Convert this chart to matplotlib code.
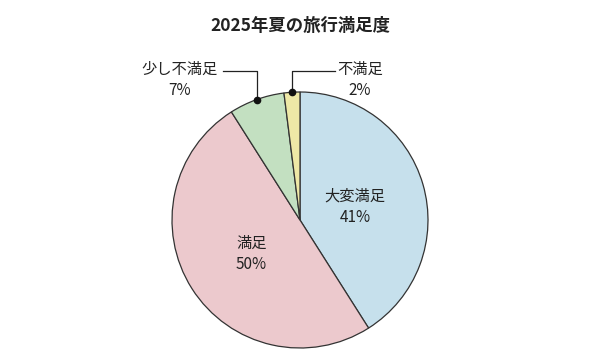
import numpy as np
import matplotlib
matplotlib.use("Agg")
import matplotlib.pyplot as plt

plt.rcParams['font.family'] = ['Noto Sans CJK JP', 'DejaVu Sans']

labels = ["大変満足", "満足", "少し不満足", "不満足"]
values = [41, 50, 7, 2]
colors = ["#c6e0ec", "#ecc9cd", "#c3e0c1", "#eee8a6"]
title = "2025年夏の旅行満足度"

W, H = 600, 359
fig = plt.figure(figsize=(W / 100, H / 100), dpi=100)
ax = fig.add_axes([0, 0, 1, 1])

cx, cy, r = 300, H - 220, 128
wedges, _ = ax.pie(values, colors=colors, startangle=90, counterclock=False,
                   center=(cx, cy), radius=r, frame=True,
                   wedgeprops=dict(edgecolor="#333333", linewidth=0.9))
ax.set_xlim(0, W)
ax.set_ylim(0, H)
ax.set_aspect("equal")
ax.axis("off")

txt = dict(fontsize=11, color="#222222", linespacing=1.3)

# labels inside the two big slices
for w, lab, v in zip(wedges[:2], labels[:2], values[:2]):
    mid = np.deg2rad((w.theta1 + w.theta2) / 2)
    x = cx + 0.45 * r * np.cos(mid)
    y = cy + 0.45 * r * np.sin(mid) - 3
    ax.text(x, y, f"{lab}\n{v}%", ha="center", va="center", **txt)

# leader lines for the small slices
line_y = H - 71
for w, lab, v, dx, gap in zip(wedges[2:], labels[2:], values[2:], [-34, 43], [5, 2]):
    mid = np.deg2rad((w.theta1 + w.theta2) / 2)
    px = cx + r * np.cos(mid)
    py = cy + r * np.sin(mid)
    ex = px + dx
    ax.plot([px, px, ex], [py, line_y, line_y], color="#222222", lw=0.9)
    ax.plot(px, py, "o", color="#111111", ms=4.5)
    side = np.sign(dx)
    tx = ex + side * gap
    ax.text(tx, line_y + 10, f"{lab}\n{v}%", ha="right" if side < 0 else "left",
            va="top", multialignment="center", **txt)

ax.text(W / 2, H - 26, title, ha="center", va="center", fontsize=12.5,
        fontweight="bold", color="#222222")

fig.savefig("out.png", dpi=100)
